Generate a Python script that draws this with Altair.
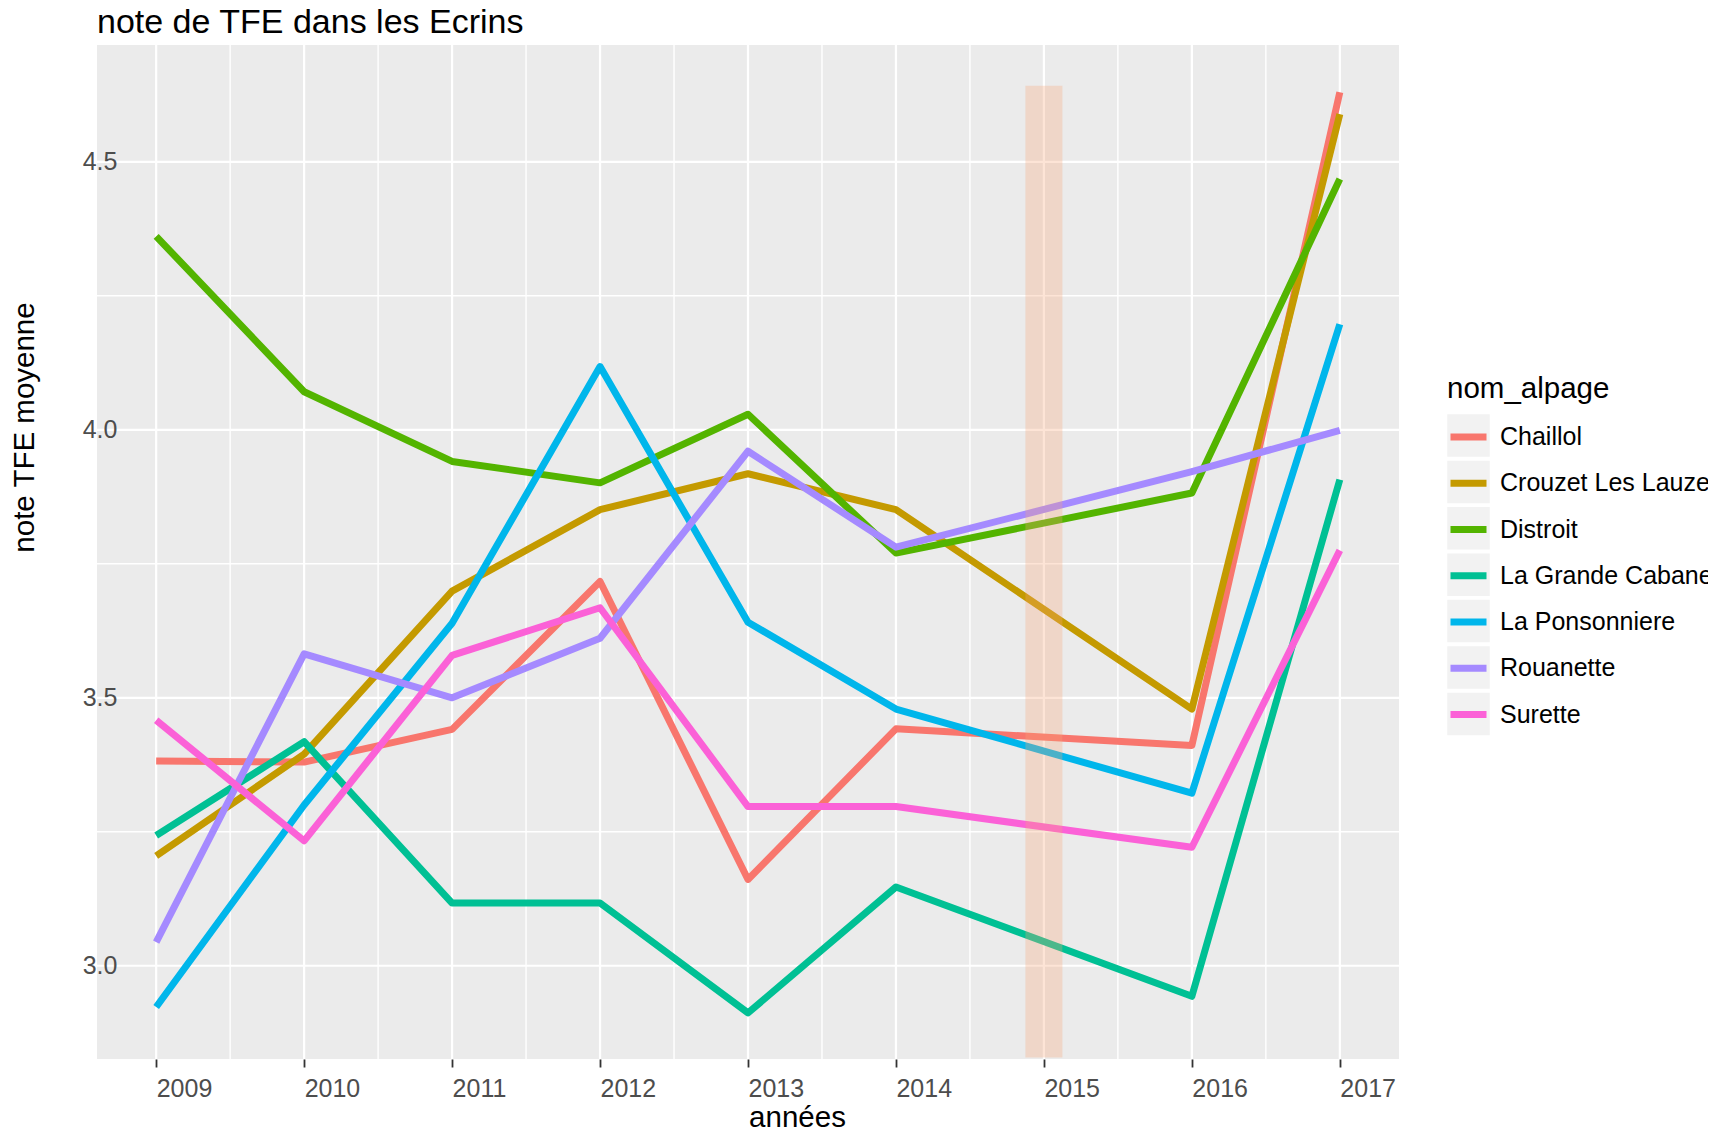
import altair as alt
import pandas as pd

years = [2009, 2010, 2011, 2012, 2013, 2014, 2016, 2017]
alpages = ["Chaillol", "Crouzet Les Lauzes", "Distroit", "La Grande Cabane",
           "La Ponsonniere", "Rouanette", "Surette"]
chaillol = [3.382, 3.380, 3.441, 3.717, 3.161, 3.442, 3.411, 4.630]
crouzet = [3.205, 3.395, 3.699, 3.851, 3.918, 3.851, 3.479, 4.589]
distroit = [4.361, 4.071, 3.941, 3.901, 4.029, 3.770, 3.882, 4.468]
grande_cabane = [3.243, 3.418, 3.117, 3.117, 2.912, 3.147, 2.943, 3.907]
ponsonniere = [2.923, 3.300, 3.639, 4.118, 3.641, 3.479, 3.322, 4.197]
rouanette = [3.044, 3.582, 3.500, 3.611, 3.960, 3.781, 3.922, 3.999]
surette = [3.458, 3.233, 3.579, 3.668, 3.297, 3.297, 3.221, 3.775]
series = [chaillol, crouzet, distroit, grande_cabane, ponsonniere, rouanette, surette]
colors = ["#F8766D", "#C49A00", "#53B400", "#00C094", "#00B6EB", "#A58AFF", "#FB61D7"]
key_grey = ["#F2F2F2"] * 7

x_major = [2009, 2010, 2011, 2012, 2013, 2014, 2015, 2016, 2017]
x_minor = [2009.5, 2010.5, 2011.5, 2012.5, 2013.5, 2014.5, 2015.5, 2016.5]
y_major = [3.0, 3.5, 4.0, 4.5]
y_minor = [3.25, 3.75, 4.25]
x_domain = [2008.6, 2017.4]
y_domain = [2.826, 4.718]
rect_x1 = [2014.875]
rect_x2 = [2015.125]
rect_y1 = [2.829]
rect_y2 = [4.642]

rows = []
for name, vals in zip(alpages, series):
    for yr, v in zip(years, vals):
        rows.append({"annee": yr, "note": v, "nom_alpage": name, "cle": name})
df = pd.DataFrame(rows)

xs = alt.Scale(domain=x_domain, nice=False, zero=False)
ys = alt.Scale(domain=y_domain, nice=False, zero=False)
FONT = "Liberation Sans"
X_TITLE = "années"
Y_TITLE = "note TFE moyenne"

x_axis = alt.Axis(values=x_major, format="d", labelAlign="left", labelFontSize=25,
                  labelColor="#4D4D4D", tickColor="#333333", tickSize=8, tickWidth=1.8,
                  domain=False, grid=False, labelPadding=9, labelFlush=False,
                  labelOverlap=False, titleFontSize=29.5, titleFontWeight="normal",
                  titleColor="black", titleX=700, titleY=58, titleBaseline="middle",
                  titleAlign="center", labelFont=FONT, titleFont=FONT)
y_axis = alt.Axis(values=y_major, format=".1f", labelAlign="center", labelBaseline="middle",
                  labelFontSize=25, labelColor="#4D4D4D", ticks=False, tickSize=0,
                  domain=False, grid=False, labelPadding=-2.5, labelFlush=False,
                  labelOverlap=False, titleFontSize=29.5, titleFontWeight="normal",
                  titleColor="black", titleX=-73, titleY=382, titleAngle=270,
                  titleBaseline="middle", titleAlign="center", zindex=1,
                  labelFont=FONT, titleFont=FONT)

def X(field):
    return alt.X(field, scale=xs, title=X_TITLE, axis=x_axis)

def Y(field):
    return alt.Y(field, scale=ys, title=Y_TITLE, axis=y_axis)

vminor = alt.Chart(pd.DataFrame({"v": x_minor})).mark_rule(color="white", strokeWidth=1.4).encode(
    x=X("v:Q"))
vmajor = alt.Chart(pd.DataFrame({"v": x_major})).mark_rule(color="white", strokeWidth=2.2).encode(
    x=X("v:Q"))
hminor = alt.Chart(pd.DataFrame({"h": y_minor})).mark_rule(color="white", strokeWidth=1.4).encode(
    y=Y("h:Q"))
hmajor = alt.Chart(pd.DataFrame({"h": y_major})).mark_rule(color="white", strokeWidth=2.2).encode(
    y=Y("h:Q"))

# invisible layer whose only role is the grey key boxes behind the legend lines
keys = alt.Chart(df).mark_square(opacity=0, size=1).encode(
    x=X("annee:Q"),
    y=Y("note:Q"),
    fill=alt.Fill("cle:N", scale=alt.Scale(range=key_grey),
                  legend=alt.Legend(orient="none", legendX=1350, legendY=369, title=None,
                                    symbolType="square", symbolSize=1806, symbolOpacity=1,
                                    symbolStrokeWidth=0, rowPadding=3.4, labelExpr="''",
                                    labelFontSize=1, labelOffset=0, padding=0, zindex=0)),
)

lines = alt.Chart(df).mark_line(strokeWidth=7, strokeCap="butt", strokeJoin="round").encode(
    x=X("annee:Q"),
    y=Y("note:Q"),
    color=alt.Color("nom_alpage:N", scale=alt.Scale(domain=alpages, range=colors),
                    legend=alt.Legend(orient="none", legendX=1350, legendY=330, title="nom_alpage",
                                      titleFontSize=29.5, titleFontWeight="normal", titleColor="black",
                                      labelFontSize=25, labelColor="black", symbolType="stroke",
                                      symbolStrokeWidth=7, symbolSize=1296, rowPadding=10.25,
                                      labelOffset=10, titlePadding=11, padding=0,
                                      labelFont=FONT, titleFont=FONT, labelLimit=400, zindex=1)),
    order=alt.Order("annee:Q"),
)

rect = alt.Chart(pd.DataFrame({"x1": rect_x1, "x2": rect_x2, "y1": rect_y1, "y2": rect_y2})).mark_rect(
    color="#F8A577", opacity=0.3).encode(
    x=X("x1:Q"), x2="x2:Q",
    y=Y("y1:Q"), y2="y2:Q")

chart = alt.layer(vminor, vmajor, hminor, hmajor, keys, lines, rect).properties(
    width=1302, height=1014,
    title=alt.TitleParams("note de TFE dans les Ecrins", anchor="start", frame="group", fontSize=34,
                          fontWeight="normal", color="black", font=FONT, offset=4),
    autosize=alt.AutoSizeParams(type="none"),
    padding={"left": 89, "top": 37, "right": 309, "bottom": 72},
).configure(background="white", font=FONT).configure_view(fill="#EBEBEB", stroke=None)

chart.save("out.html", embed_options={"renderer": "svg", "actions": False})
